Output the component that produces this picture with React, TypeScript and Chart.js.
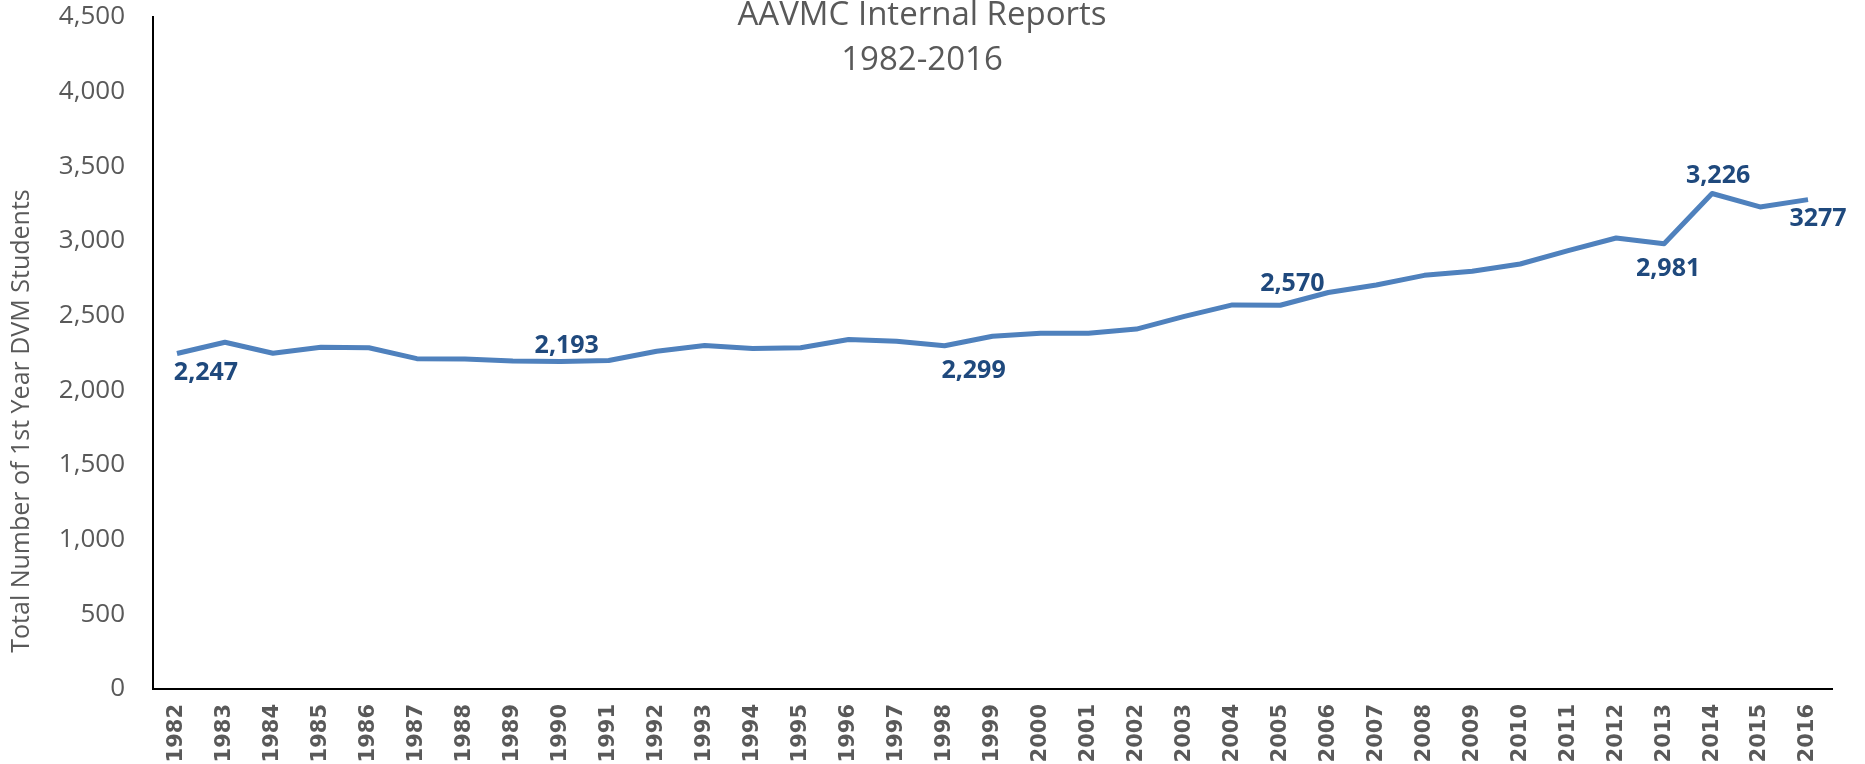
import React, { useEffect, useRef } from "react";
import { Chart, registerables } from "chart.js";

Chart.register(...registerables);

// ---- data ----
const years = [
  "1982", "1983", "1984", "1985", "1986", "1987", "1988", "1989", "1990", "1991",
  "1992", "1993", "1994", "1995", "1996", "1997", "1998", "1999", "2000", "2001",
  "2002", "2003", "2004", "2005", "2006", "2007", "2008", "2009", "2010", "2011",
  "2012", "2013", "2014", "2015", "2016",
];
const students = [
  2247, 2322, 2248, 2288, 2285, 2212, 2210, 2196, 2193, 2200,
  2262, 2300, 2280, 2285, 2340, 2328, 2299, 2362, 2382, 2382,
  2410, 2495, 2572, 2570, 2655, 2705, 2770, 2798, 2846, 2935,
  3020, 2981, 3318, 3228, 3277,
];
const yMin = 0;
const yMax = 4500;
const yStep = 500;
const titleLines = ["AAVMC Internal Reports", "1982-2016"];
const yAxisTitle = "Total Number of 1st Year DVM Students";
const labelYears = ["1982", "1990", "1998", "2005", "2013", "2014", "2016"];
const labelTexts = ["2,247", "2,193", "2,299", "2,570", "2,981", "3,226", "3277"];
const highlightYears = ["2014", "2015"];

// ---- styles ----
const LINE_COLOR = "#4F81BD";
const LABEL_COLOR = "#1F497D";
const TEXT_GRAY = "#595959";
const LABEL_OFFSETS: Array<[number, number]> = [
  [29, 19], [6, -16], [29, 25], [12, -21], [4, 25], [6, -18], [10, 19],
];

const titlePlugin = {
  id: "customTitle",
  afterDraw(chart: any) {
    const ctx = chart.ctx;
    ctx.save();
    ctx.fillStyle = TEXT_GRAY;
    ctx.font = "33px 'Open Sans'";
    ctx.textAlign = "center";
    ctx.textBaseline = "middle";
    const ys = [16, 61];
    titleLines.forEach((t, i) => ctx.fillText(t, 922, ys[i]));
    // y-axis title
    ctx.font = "25px 'Open Sans'";
    ctx.translate(22, 421);
    ctx.rotate(-Math.PI / 2);
    ctx.fillText(yAxisTitle, 0, 0);
    ctx.restore();
  },
};

const dataLabelPlugin = {
  id: "dataLabels",
  afterDatasetsDraw(chart: any) {
    const ctx = chart.ctx;
    const meta = chart.getDatasetMeta(0);
    ctx.save();
    ctx.fillStyle = LABEL_COLOR;
    ctx.font = "bold 25px 'Open Sans'";
    ctx.textAlign = "center";
    ctx.textBaseline = "middle";
    labelYears.forEach((yr, i) => {
      const idx = years.indexOf(yr);
      const pt = meta.data[idx];
      if (!pt) return;
      const [dx, dy] = LABEL_OFFSETS[i];
      ctx.fillText(labelTexts[i], pt.x + dx, pt.y + dy);
    });
    ctx.restore();
  },
};

export default function App() {
  const canvasRef = useRef<HTMLCanvasElement | null>(null);

  useEffect(() => {
    if (!canvasRef.current) return;
    const chart = new Chart(canvasRef.current, {
      type: "line",
      data: {
        labels: years,
        datasets: [
          {
            data: students,
            borderColor: LINE_COLOR,
            borderWidth: 5,
            pointRadius: 0,
            tension: 0,
            fill: false,
            borderJoinStyle: "round",
          },
          {
            data: students.map((v, i) => (highlightYears.includes(years[i]) ? v : null)),
            borderColor: "#A5A5A5",
            borderWidth: 1.5,
            pointRadius: 0,
            tension: 0,
            fill: false,
            spanGaps: false,
          },
        ],
      },
      options: {
        animation: false,
        responsive: true,
        maintainAspectRatio: false,
        layout: { padding: { top: 17, right: 33, left: 0, bottom: 0 } },
        plugins: {
          legend: { display: false },
          title: { display: false },
          tooltip: { enabled: false },
        },
        scales: {
          x: {
            offset: true,
            grid: { display: false, drawTicks: false },
            border: { display: true, color: "#000", width: 2 },
            ticks: {
              autoSkip: false,
              maxRotation: 90,
              minRotation: 90,
              padding: 15,
              color: TEXT_GRAY,
              font: { family: "'DejaVu Sans'", weight: "bold", size: 21 },
            },
            afterFit(scale: any) {
              scale.height = 75;
              scale.paddingLeft = 0;
              scale.paddingRight = 0;
            },
          },
          y: {
            min: yMin,
            max: yMax,
            grid: { display: false, drawTicks: false },
            border: { display: true, color: "#000", width: 2 },
            ticks: {
              stepSize: yStep,
              padding: 28,
              color: TEXT_GRAY,
              font: { family: "'Open Sans'", size: 26 },
              callback: (v: any) => Number(v).toLocaleString("en-US"),
            },
            afterFit(scale: any) {
              scale.width = 153;
              scale.paddingTop = 0;
              scale.paddingBottom = 0;
            },
          },
        },
      },
      plugins: [titlePlugin, dataLabelPlugin],
    });
    return () => chart.destroy();
  }, []);

  return (
    <div style={{ position: "fixed", left: 0, top: 0, width: 1865, height: 764, background: "#fff" }}>
      <canvas ref={canvasRef} />
    </div>
  );
}
